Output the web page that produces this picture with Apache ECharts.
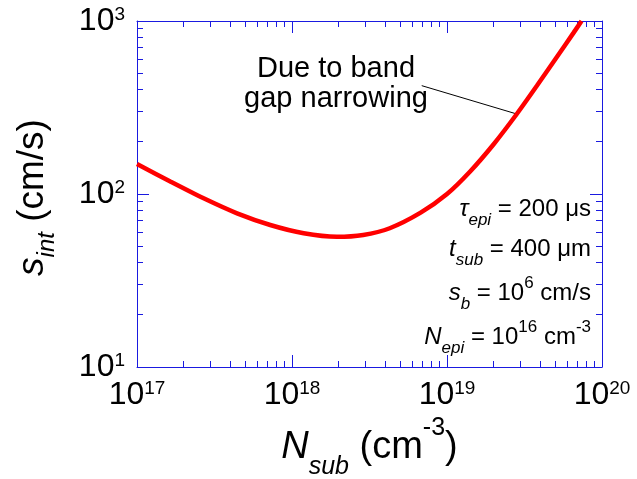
<!DOCTYPE html>
<html>
<head>
<meta charset="utf-8">
<style>html,body{margin:0;padding:0;background:#fff;}#c{width:637px;height:479px;}</style>
<script src="https://cdn.jsdelivr.net/npm/echarts@6/dist/echarts.min.js"></script>
</head>
<body>
<div id="c"></div>
<script>
// ---- data ----
const nSub = [1e17, 1.64e17, 2.69e17, 4.42e17, 7.24e17, 1.19e18, 1.95e18, 2.88e18, 4.27e18, 6.76e18, 1.0e19, 1.41e19, 2.0e19, 2.82e19, 3.8e19, 5.1e19, 6.53e19, 7.38e19];
const sInt = [149, 118, 94.4, 77.3, 66.2, 59.3, 56.6, 58, 63.4, 78, 100, 135, 194, 290, 422, 617, 851, 1000];
const leaderN = [6.87e18, 2.82e19];
const leaderS = [423, 290];
const xTickExp = [17, 18, 19, 20];
const yTickExp = [1, 2, 3];
const minorMult = [2, 3, 4, 5, 6, 7, 8, 9];
const annotationText = ['Due to band', 'gap narrowing'];
const paramTexts = [
  '{i|τ}{sub|epi}{n| = 200 μs}',
  '{i|t}{sub|sub}{n| = 400 μm}',
  '{i|s}{sub|b}{n| = 10}{sup|6}{n| cm/s}',
  '{i|N}{sub|epi}{n| = 10}{sup|16}{n| cm}{sup|-3}'
];

// ---- derived ----
const X_MIN = Math.pow(10, xTickExp[0]), X_MAX = Math.pow(10, xTickExp[xTickExp.length - 1]);
const Y_MIN = Math.pow(10, yTickExp[0]), Y_MAX = Math.pow(10, yTickExp[yTickExp.length - 1]);
const xMinor = [];
xTickExp.slice(0, -1).forEach(e => minorMult.forEach(m => xMinor.push(m * Math.pow(10, e))));
const yMinor = [];
yTickExp.slice(0, -1).forEach(e => minorMult.forEach(m => yMinor.push(m * Math.pow(10, e))));

const FONT = 'Liberation Sans, Arial, sans-serif';
const AX = '#1a1ae0';
const MAJ = 12, MIN = 6;

function expLabel(v) {
  const e = Math.round(Math.log10(v));
  return '{b|10}{s|' + e + '}';
}
const tickRich = {
  b: { fontSize: 32, lineHeight: 32, fontFamily: FONT, color: '#000' },
  s: { fontSize: 19, lineHeight: 20, verticalAlign: 'top', fontFamily: FONT, color: '#000' }
};

const chart = echarts.init(document.getElementById('c'), null, { renderer: 'canvas' });

const axisCommon = {
  type: 'log', logBase: 10, splitNumber: 3,
  axisLine: { show: true, onZero: false, lineStyle: { color: AX, width: 1 } },
  axisTick: { show: true, inside: true, length: MAJ, lineStyle: { color: AX, width: 1 } },
  minorTick: { show: false },
  splitLine: { show: false }
};

function crisp(v) { return Math.round(v - 0.5) + 0.5; }

const paramRich = {
  i: { fontSize: 24, lineHeight: 38, fontStyle: 'italic', fontFamily: FONT, color: '#000' },
  n: { fontSize: 24, lineHeight: 38, fontFamily: FONT, color: '#000' },
  sub: { fontSize: 17, lineHeight: 17, fontStyle: 'italic', verticalAlign: 'bottom', fontFamily: FONT, color: '#000' },
  sup: { fontSize: 17, lineHeight: 33, verticalAlign: 'top', fontFamily: FONT, color: '#000' }
};
const paramTops = [190.5, 230.5, 274.5, 318.5];

const option = {
  animation: false,
  backgroundColor: '#fff',
  grid: { left: 137, top: 21, width: 465, height: 346, containLabel: false, outerBoundsMode: 'none' },
  xAxis: [
    Object.assign({}, axisCommon, {
      position: 'bottom', min: X_MIN, max: X_MAX,
      axisLabel: { show: true, margin: 12, formatter: expLabel, rich: tickRich },
      name: '{i|N}{sub|sub}{n| (cm}{sup|-3}{n|)}',
      nameLocation: 'middle', nameGap: 43,
      nameTextStyle: {
        rich: {
          i: { fontSize: 38, lineHeight: 64, fontStyle: 'italic', fontFamily: FONT, color: '#000' },
          n: { fontSize: 38, lineHeight: 64, fontFamily: FONT, color: '#000' },
          sub: { fontSize: 25, lineHeight: 25, fontStyle: 'italic', verticalAlign: 'bottom', fontFamily: FONT, color: '#000' },
          sup: { fontSize: 25, lineHeight: 30, verticalAlign: 'top', fontFamily: FONT, color: '#000' }
        }
      }
    }),
    Object.assign({}, axisCommon, {
      position: 'top', min: X_MIN, max: X_MAX,
      axisLabel: { show: false }
    })
  ],
  yAxis: [
    Object.assign({}, axisCommon, {
      position: 'left', min: Y_MIN, max: Y_MAX,
      axisLabel: { show: true, margin: 12, formatter: expLabel, rich: tickRich },
      name: '{i|s}{sub|int}{n| (cm/s)}',
      nameLocation: 'middle', nameGap: 78,
      nameTextStyle: {
        padding: [0, 7, 0, 0],
        rich: {
          i: { fontSize: 37, lineHeight: 52, fontStyle: 'italic', fontFamily: FONT, color: '#000' },
          n: { fontSize: 37, lineHeight: 52, fontFamily: FONT, color: '#000' },
          sub: { fontSize: 24, lineHeight: 24, fontStyle: 'italic', verticalAlign: 'bottom', fontFamily: FONT, color: '#000' }
        }
      }
    }),
    Object.assign({}, axisCommon, {
      position: 'right', min: Y_MIN, max: Y_MAX,
      axisLabel: { show: false }
    })
  ],
  series: [
    {
      type: 'line', xAxisIndex: 0, yAxisIndex: 0,
      data: nSub.map((n, i) => [n, sInt[i]]),
      smooth: 0.3, showSymbol: false, symbol: 'none',
      lineStyle: { color: '#ff0000', width: 4.5 },
      clip: true, z: 5
    },
    {
      type: 'line', xAxisIndex: 0, yAxisIndex: 0,
      data: leaderN.map((n, i) => [n, leaderS[i]]),
      showSymbol: false, symbol: 'none',
      lineStyle: { color: '#000', width: 1 }, z: 4
    },
    {
      type: 'custom', xAxisIndex: 0, yAxisIndex: 0, silent: true, z: 3,
      data: xMinor.map(v => [v, Y_MIN]),
      renderItem: function (params, api) {
        const x = api.value(0);
        const pb = api.coord([x, Y_MIN]);
        const pt = api.coord([x, Y_MAX]);
        const px = crisp(pb[0]);
        return { type: 'group', children: [
          { type: 'line', shape: { x1: px, y1: pb[1], x2: px, y2: pb[1] - MIN }, style: { stroke: AX, lineWidth: 1 } },
          { type: 'line', shape: { x1: px, y1: pt[1], x2: px, y2: pt[1] + MIN }, style: { stroke: AX, lineWidth: 1 } }
        ] };
      }
    },
    {
      type: 'custom', xAxisIndex: 0, yAxisIndex: 0, silent: true, z: 3,
      data: yMinor.map(v => [X_MIN, v]),
      renderItem: function (params, api) {
        const y = api.value(1);
        const pl = api.coord([X_MIN, y]);
        const pr = api.coord([X_MAX, y]);
        const py = crisp(pl[1]);
        return { type: 'group', children: [
          { type: 'line', shape: { x1: pl[0], y1: py, x2: pl[0] + MIN, y2: py }, style: { stroke: AX, lineWidth: 1 } },
          { type: 'line', shape: { x1: pr[0], y1: py, x2: pr[0] - MIN, y2: py }, style: { stroke: AX, lineWidth: 1 } }
        ] };
      }
    }
  ],
  graphic: [
    {
      type: 'text', x: 336, y: 54, silent: true,
      style: { text: annotationText.join('\n'), fontSize: 29, lineHeight: 30, fontFamily: FONT, fill: '#000', align: 'center', verticalAlign: 'top' }
    }
  ].concat(paramTexts.map((t, i) => ({
    type: 'text', x: 591, y: paramTops[i], silent: true,
    style: { text: t, rich: paramRich, align: 'right', verticalAlign: 'top', fill: '#000' }
  })))
};
chart.setOption(option);
</script>
</body>
</html>
